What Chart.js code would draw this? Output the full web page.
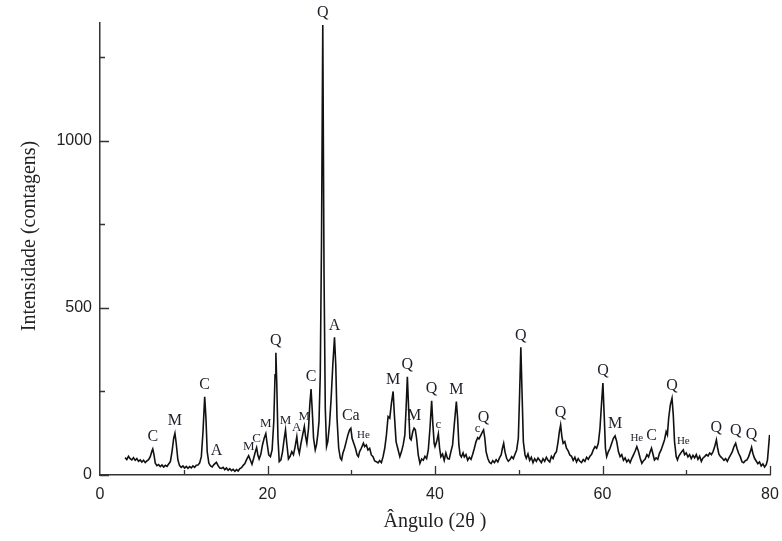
<!DOCTYPE html>
<html>
<head>
<meta charset="utf-8">
<script src="https://cdn.jsdelivr.net/npm/chart.js@4.4.1/dist/chart.umd.min.js"></script>
<style>
  body { margin: 0; background: #fff; }
  #wrap { width: 782px; height: 541px; }
</style>
</head>
<body>
<div id="wrap"><canvas id="xrd"></canvas></div>
<script>
// diffractogram: 2-theta (degrees) and counts
var angles = [
  3.0, 3.2, 3.4, 3.6, 3.8, 4.0, 4.2, 4.4, 4.6, 4.8, 5.0, 5.2, 5.4, 5.6, 5.8, 6.0, 6.2, 6.3, 6.45, 6.6,
  6.8, 7.0, 7.2, 7.4, 7.6, 7.8, 8.0, 8.2, 8.4, 8.6, 8.8, 8.95, 9.1, 9.3, 9.5, 9.7, 9.9, 10.1, 10.3, 10.5,
  10.7, 10.9, 11.1, 11.3, 11.5, 11.7, 11.9, 12.1, 12.3, 12.5, 12.65, 12.8, 13.0, 13.2, 13.4, 13.6, 13.9, 14.1, 14.3, 14.5,
  14.7, 14.9, 15.1, 15.3, 15.5, 15.7, 15.9, 16.1, 16.3, 16.5, 16.7, 16.9, 17.1, 17.3, 17.5, 17.75, 17.95, 18.15, 18.35, 18.55,
  18.7, 18.85, 19.0, 19.2, 19.4, 19.6, 19.8, 19.95, 20.15, 20.35, 20.55, 20.75, 20.9, 21.0, 21.1, 21.25, 21.4, 21.6, 21.8, 22.0,
  22.15, 22.3, 22.5, 22.7, 22.9, 23.1, 23.3, 23.5, 23.65, 23.8, 24.0, 24.2, 24.4, 24.55, 24.7, 24.9, 25.05, 25.2, 25.35, 25.5,
  25.7, 25.85, 26.0, 26.15, 26.3, 26.45, 26.6, 26.75, 26.9, 27.05, 27.2, 27.4, 27.6, 27.8, 28.0, 28.15, 28.3, 28.5, 28.7, 28.85,
  29.0, 29.2, 29.4, 29.6, 29.8, 29.95, 30.1, 30.3, 30.5, 30.7, 30.85, 31.0, 31.2, 31.45, 31.6, 31.8, 32.0, 32.2, 32.4, 32.6,
  32.8, 33.0, 33.2, 33.4, 33.6, 33.8, 34.0, 34.2, 34.4, 34.6, 34.8, 35.0, 35.15, 35.35, 35.6, 35.8, 36.0, 36.2, 36.4, 36.55,
  36.7, 36.85, 37.0, 37.15, 37.35, 37.5, 37.65, 37.8, 38.0, 38.2, 38.4, 38.6, 38.8, 39.0, 39.2, 39.4, 39.6, 39.75, 39.9, 40.0,
  40.2, 40.4, 40.55, 40.7, 40.9, 41.1, 41.3, 41.5, 41.7, 41.9, 42.1, 42.3, 42.55, 42.7, 42.85, 43.0, 43.15, 43.35, 43.5, 43.7,
  43.9, 44.1, 44.3, 44.5, 44.7, 44.9, 45.1, 45.25, 45.45, 45.65, 45.8, 45.95, 46.1, 46.3, 46.5, 46.7, 46.9, 47.1, 47.3, 47.5,
  47.7, 47.9, 48.05, 48.2, 48.35, 48.55, 48.75, 48.95, 49.15, 49.35, 49.55, 49.75, 49.95, 50.1, 50.25, 50.4, 50.55, 50.75, 50.9, 51.1,
  51.3, 51.5, 51.7, 51.9, 52.1, 52.3, 52.5, 52.7, 52.9, 53.1, 53.3, 53.5, 53.7, 53.9, 54.1, 54.3, 54.5, 54.7, 54.85, 55.0,
  55.15, 55.3, 55.5, 55.7, 55.9, 56.1, 56.3, 56.5, 56.7, 56.9, 57.1, 57.3, 57.5, 57.7, 57.9, 58.1, 58.3, 58.5, 58.7, 58.9,
  59.1, 59.3, 59.5, 59.7, 59.9, 60.05, 60.2, 60.35, 60.5, 60.7, 60.9, 61.1, 61.3, 61.5, 61.7, 61.9, 62.1, 62.3, 62.5, 62.7,
  62.9, 63.1, 63.3, 63.5, 63.7, 63.9, 64.1, 64.3, 64.5, 64.7, 64.9, 65.1, 65.3, 65.5, 65.7, 65.85, 66.0, 66.2, 66.4, 66.6,
  66.8, 67.0, 67.2, 67.4, 67.6, 67.75, 67.9, 68.1, 68.3, 68.45, 68.6, 68.8, 68.95, 69.1, 69.3, 69.5, 69.65, 69.8, 70.0, 70.2,
  70.4, 70.6, 70.8, 71.0, 71.2, 71.4, 71.6, 71.8, 72.0, 72.2, 72.4, 72.6, 72.8, 73.0, 73.2, 73.4, 73.6, 73.75, 73.9, 74.1,
  74.3, 74.5, 74.7, 74.9, 75.1, 75.3, 75.5, 75.7, 75.9, 76.05, 76.25, 76.45, 76.65, 76.85, 77.05, 77.25, 77.45, 77.65, 77.8, 77.95,
  78.15, 78.35, 78.55, 78.75, 78.95, 79.15, 79.35, 79.55, 79.7, 79.85, 79.95
];
var counts = [
  52, 46, 56, 49, 45, 52, 44, 49, 41, 45, 39, 44, 37, 42, 46, 55, 72, 78, 60, 35,
  28, 31, 25, 30, 24, 29, 26, 33, 40, 70, 110, 125, 95, 45, 28, 23, 27, 21, 26, 20,
  25, 21, 27, 23, 29, 30, 36, 55, 130, 234, 170, 70, 35, 27, 24, 31, 38, 28, 21, 20,
  23, 16, 21, 14, 19, 13, 17, 11, 16, 12, 19, 22, 29, 34, 46, 58, 45, 32, 50, 70,
  82, 60, 48, 62, 90, 110, 124, 95, 60, 55, 75, 160, 300, 366, 280, 110, 40, 45, 70, 110,
  135, 95, 48, 56, 70, 61, 85, 115, 80, 65, 95, 120, 145, 115, 95, 140, 210, 257, 190, 110,
  75, 90, 120, 160, 300, 700, 1347, 600, 200, 85, 100, 150, 230, 330, 412, 330, 170, 80, 50, 45,
  65, 80, 100, 120, 135, 140, 110, 95, 80, 60, 55, 70, 80, 95, 85, 90, 75, 80, 60, 55,
  42, 40, 36, 43, 37, 55, 80, 120, 175, 170, 215, 250, 180, 100, 75, 55, 70, 90, 120, 200,
  294, 200, 110, 105, 130, 140, 135, 110, 60, 35, 48, 44, 56, 49, 75, 140, 222, 150, 95, 85,
  100, 123, 80, 55, 63, 44, 66, 49, 48, 70, 90, 150, 220, 170, 90, 60, 54, 66, 54, 61,
  44, 53, 47, 62, 80, 100, 112, 108, 118, 128, 135, 110, 70, 50, 38, 34, 43, 37, 46, 39,
  51, 60, 80, 95, 70, 50, 41, 46, 55, 49, 62, 75, 110, 240, 382, 240, 100, 60, 50, 63,
  44, 53, 37, 49, 41, 51, 44, 37, 49, 41, 53, 44, 39, 56, 49, 63, 70, 100, 130, 150,
  115, 95, 100, 80, 72, 60, 56, 44, 53, 39, 49, 41, 37, 46, 41, 53, 47, 56, 62, 75,
  85, 80, 95, 140, 220, 275, 180, 80, 55, 70, 80, 95, 110, 117, 100, 70, 55, 61, 44, 51,
  39, 46, 37, 50, 60, 72, 85, 70, 50, 35, 43, 48, 61, 54, 70, 80, 65, 45, 51, 47,
  65, 75, 90, 105, 130, 120, 170, 210, 230, 180, 100, 55, 45, 56, 64, 71, 75, 61, 66, 54,
  61, 49, 59, 51, 61, 47, 56, 41, 51, 55, 61, 57, 66, 61, 70, 85, 105, 80, 62, 55,
  50, 44, 49, 41, 51, 60, 70, 85, 95, 80, 65, 55, 40, 37, 43, 45, 55, 70, 83, 65,
  50, 42, 34, 39, 27, 33, 24, 31, 45, 90, 120
];

// identified phases: peak position and symbol
var peakAngles = [6.3, 8.95, 12.5, 13.9, 17.75, 18.7, 19.8, 21.0, 22.15, 23.5, 24.4, 25.2, 26.6, 28.0, 29.95, 31.45,
  35.0, 36.7, 37.5, 39.6, 40.4, 42.55, 45.1, 45.8, 50.25, 55.0, 60.05, 61.5, 64.1, 65.85, 68.3, 69.65, 73.6, 75.9, 77.8];
var peakPhases = ["C", "M", "C", "A", "M", "C", "M", "Q", "M", "A", "M", "C", "Q", "A", "Ca", "He",
  "M", "Q", "M", "Q", "c", "M", "c", "Q", "Q", "Q", "Q", "M", "He", "C", "Q", "He", "Q", "Q", "Q"];

var yTicks = [0, 500, 1000];
var xTicks = [0, 20, 40, 60, 80];

var points = angles.map(function (a, i) { return { x: a, y: counts[i] }; });

var serif = "'Liberation Serif', 'Times New Roman', serif";

// phase symbols above the peaks, inward tick marks, y title
var peakLabels = {
  id: "peakLabels",
  afterDatasetsDraw: function (chart) {
    var ctx = chart.ctx, xs = chart.scales.x, ys = chart.scales.y;
    ctx.save();
    ctx.fillStyle = "#1f1f2a";
    ctx.textAlign = "center";
    ctx.textBaseline = "bottom";
    peakAngles.forEach(function (a, i) {
      var top = 0;
      angles.forEach(function (t, j) {
        if (Math.abs(t - a) <= 0.2 && counts[j] > top) top = counts[j];
      });
      var txt = peakPhases[i];
      var crowded = a > 17 && a < 25 && txt !== "Q" && txt !== "C" || (a > 17 && a < 19.5);
      var size = txt === "He" ? 11 : (crowded || txt === "c") ? 13 : 16;
      ctx.font = size + "px " + serif;
      ctx.fillText(txt, xs.getPixelForValue(a), ys.getPixelForValue(top) - (size > 13 ? 4 : 3));
    });
    ctx.restore();
  },
  afterDraw: function (chart) {
    var ctx = chart.ctx, xs = chart.scales.x, ys = chart.scales.y;
    var area = chart.chartArea;
    ctx.save();
    ctx.strokeStyle = "#333";
    ctx.lineWidth = 1.3;
    ctx.beginPath();
    for (var v = 0; v <= 1250; v += 250) {
      var py = Math.round(ys.getPixelForValue(v)) + 0.5;
      ctx.moveTo(area.left, py);
      ctx.lineTo(area.left + (v % 500 === 0 ? 9 : 5), py);
    }
    for (var u = 10; u <= 80; u += 10) {
      var px = Math.round(xs.getPixelForValue(u)) + 0.5;
      ctx.moveTo(px, area.bottom);
      ctx.lineTo(px, area.bottom - (u % 20 === 0 ? 9 : 5));
    }
    ctx.stroke();

    ctx.translate(area.left - 70, (area.top + area.bottom) / 2 - 13);
    ctx.rotate(-Math.PI / 2);
    ctx.fillStyle = "#222";
    ctx.font = "20px " + serif;
    ctx.textAlign = "center";
    ctx.textBaseline = "middle";
    ctx.fillText("Intensidade (contagens)", 0, 0);
    ctx.restore();
  }
};

new Chart(document.getElementById("xrd"), {
  type: "line",
  data: {
    datasets: [{
      data: points,
      borderColor: "#111",
      borderWidth: 1.6,
      pointRadius: 0,
      tension: 0,
      fill: false
    }]
  },
  options: {
    responsive: true,
    maintainAspectRatio: false,
    animation: false,
    layout: { padding: { top: 23, right: 12, left: 0, bottom: 0 } },
    plugins: { legend: { display: false }, tooltip: { enabled: false } },
    scales: {
      x: {
        type: "linear",
        min: 0,
        max: 80,
        afterFit: function (s) {
          s.height = 66;
          s.paddingLeft = 0;
          s.paddingRight = 0;
        },
        afterBuildTicks: function (s) { s.ticks = xTicks.map(function (v) { return { value: v }; }); },
        grid: { display: false },
        border: { display: true, color: "#333", width: 1.5 },
        ticks: {
          color: "#222", padding: 2,
          font: { family: "'Liberation Sans', Arial, sans-serif", size: 16 },
          callback: function (v) { return String(v); }
        },
        title: {
          display: true,
          text: "Ângulo (2θ )",
          color: "#222",
          padding: { top: 0, bottom: 7 },
          font: { family: serif, size: 20 }
        }
      },
      y: {
        min: 0,
        max: 1353,
        afterFit: function (s) { s.width = 100; },
        afterBuildTicks: function (s) { s.ticks = yTicks.map(function (v) { return { value: v }; }); },
        grid: { display: false },
        border: { display: true, color: "#333", width: 1.5 },
        ticks: {
          color: "#222", padding: 0,
          font: { family: "'Liberation Sans', Arial, sans-serif", size: 16 },
          callback: function (v) { return String(v); }
        }
      }
    }
  },
  plugins: [peakLabels]
});
</script>
</body>
</html>
